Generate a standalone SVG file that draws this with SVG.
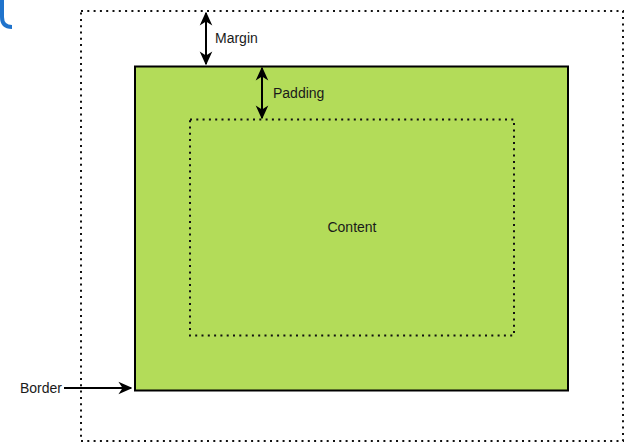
<svg xmlns="http://www.w3.org/2000/svg" width="633" height="444" viewBox="0 0 633 444">
<style>
text{font-family:"Liberation Sans",Arial,sans-serif;font-size:14px;fill:#1a1a1a}
.dot{fill:none;stroke:#111;stroke-width:2;stroke-dasharray:2 4.3}
.arr{fill:none;stroke:#000;stroke-width:2}
</style>
<defs>
<marker id="ah" viewBox="0 0 10 10" refX="9" refY="5" markerWidth="7" markerHeight="7" orient="auto-start-reverse" markerUnits="strokeWidth">
<path d="M0,0.5 L10,5 L0,9.5 L3,5 Z" fill="#000"/>
</marker>
</defs>
<path d="M2,0 L2,17 Q2,27 12,27" fill="none" stroke="#1f73cc" stroke-width="4"/>
<g id="margin-box"><rect class="dot" x="81" y="11" width="542" height="430"/></g>
<g id="border-box"><rect x="135" y="66.5" width="433" height="324" fill="#b3dc59" stroke="#000" stroke-width="2"/></g>
<g id="content-box"><rect class="dot" x="190" y="119.5" width="324" height="216"/><text x="352" y="232" text-anchor="middle">Content</text></g>
<g id="connectors">
<line class="arr" x1="206" y1="13" x2="206" y2="64" marker-start="url(#ah)" marker-end="url(#ah)"/>
<line class="arr" x1="262" y1="68" x2="262" y2="118" marker-start="url(#ah)" marker-end="url(#ah)"/>
<line class="arr" x1="64" y1="388" x2="131" y2="388" marker-end="url(#ah)"/>
</g>
<g id="labels">
<text x="215" y="43">Margin</text>
<text x="273" y="98">Padding</text>
<text x="20" y="393">Border</text>
</g>
</svg>
